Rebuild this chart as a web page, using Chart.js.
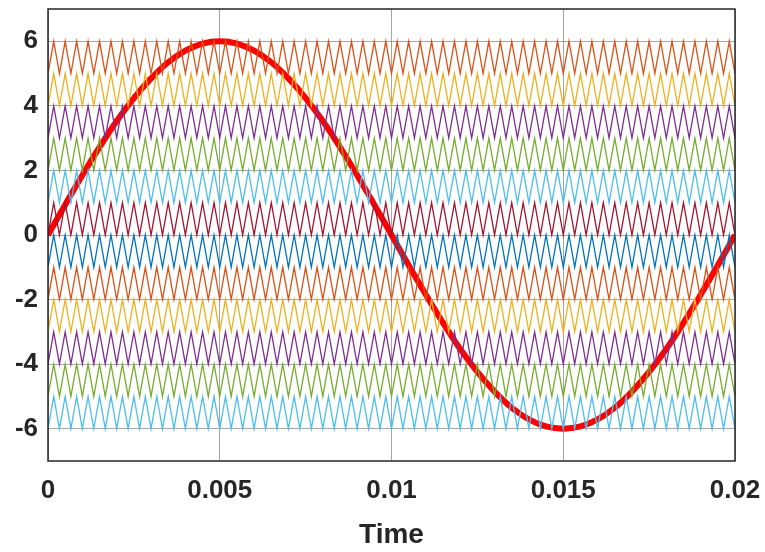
<!DOCTYPE html>
<html>
<head>
<meta charset="utf-8">
<script src="https://cdn.jsdelivr.net/npm/chart.js@4/dist/chart.umd.min.js"></script>
<style>
  html, body { margin: 0; padding: 0; background: #fff; }
  #wrap { width: 765px; height: 552px; }
</style>
</head>
<body>
<div id="wrap"><canvas id="pwm" width="765" height="552"></canvas></div>
<script>
// reference sine, 50 Hz, amplitude 6, read every 0.0005 s
var refTimes = [0, 0.0005, 0.001, 0.0015, 0.002, 0.0025, 0.003, 0.0035, 0.004, 0.0045,
  0.005, 0.0055, 0.006, 0.0065, 0.007, 0.0075, 0.008, 0.0085, 0.009, 0.0095,
  0.01, 0.0105, 0.011, 0.0115, 0.012, 0.0125, 0.013, 0.0135, 0.014, 0.0145,
  0.015, 0.0155, 0.016, 0.0165, 0.017, 0.0175, 0.018, 0.0185, 0.019, 0.0195, 0.02];
var refValues = [0, 0.94, 1.85, 2.72, 3.53, 4.24, 4.85, 5.35, 5.71, 5.93,
  6, 5.93, 5.71, 5.35, 4.85, 4.24, 3.53, 2.72, 1.85, 0.94,
  0, -0.94, -1.85, -2.72, -3.53, -4.24, -4.85, -5.35, -5.71, -5.93,
  -6, -5.93, -5.71, -5.35, -4.85, -4.24, -3.53, -2.72, -1.85, -0.94, 0];

// level-shifted triangular carriers, one per unit band, 60 cycles over 0.02 s
var carrierBottoms = [5, 4, 3, 2, 1, 0, -1, -2, -3, -4, -5, -6];
var carrierColors = ['#D95319', '#EDB120', '#7E2F8E', '#77AC30', '#4DBEEE', '#A2142F',
  '#0072BD', '#D95319', '#EDB120', '#7E2F8E', '#77AC30', '#4DBEEE'];
var carrierCycles = 60;
var timeEnd = 0.02;

var xTicks = [0, 0.005, 0.01, 0.015, 0.02];
var xTickLabels = ['0', '0.005', '0.01', '0.015', '0.02'];
var yTicks = [-6, -4, -2, 0, 2, 4, 6];
var yTickLabels = ['-6', '-4', '-2', '0', '2', '4', '6'];

var datasets = [];
carrierBottoms.forEach(function(b, i) {
  var pts = [];
  // triangle vertices: trough at t=0, peak every half cycle
  for (var k = 0; k <= carrierCycles * 2; k++) {
    pts.push({x: k * timeEnd / (carrierCycles * 2), y: b + (k % 2)});
  }
  datasets.push({
    data: pts,
    borderColor: carrierColors[i],
    borderWidth: 1.3,
    pointRadius: 0,
    tension: 0
  });
});
datasets.push({
  data: refTimes.map(function(t, i) { return {x: t, y: refValues[i]}; }),
  borderColor: '#FF0000',
  borderWidth: 6,
  pointRadius: 0,
  tension: 0.3
});

var boxPlugin = {
  id: 'box',
  afterDatasetsDraw: function(chart) {
    var a = chart.chartArea, ctx = chart.ctx;
    ctx.save();
    ctx.strokeStyle = '#262626';
    ctx.lineWidth = 1.5;
    ctx.strokeRect(a.left, a.top, a.right - a.left, a.bottom - a.top);
    ctx.restore();
  }
};

var tickFont = {family: "'Liberation Sans', Arial, sans-serif", size: 26, weight: 'bold'};

new Chart('pwm', {
  type: 'line',
  data: {datasets: datasets},
  plugins: [boxPlugin],
  options: {
    responsive: false,
    animation: false,
    events: [],
    layout: {padding: {top: 9, right: 30, left: 0, bottom: 0}},
    plugins: {legend: {display: false}, tooltip: {enabled: false}},
    scales: {
      x: {
        type: 'linear',
        min: 0,
        max: 0.02,
        afterBuildTicks: function(s) { s.ticks = xTicks.map(function(v) { return {value: v}; }); },
        afterFit: function(s) { s.height = 91; s.paddingLeft = 0; s.paddingRight = 0; },
        ticks: {
          color: '#262626',
          font: tickFont,
          padding: 14,
          maxRotation: 0,
          callback: function(v) { return xTickLabels[xTicks.indexOf(v)]; }
        },
        grid: {color: 'rgba(0,0,0,0.35)', lineWidth: 1, drawTicks: false},
        border: {display: false},
        title: {
          display: true,
          text: 'Time',
          color: '#262626',
          font: {family: tickFont.family, size: 28, weight: 'bold'},
          padding: {top: 2, bottom: 0}
        }
      },
      y: {
        type: 'linear',
        min: -7,
        max: 7,
        afterBuildTicks: function(s) { s.ticks = yTicks.map(function(v) { return {value: v}; }); },
        afterFit: function(s) { s.width = 48; s.paddingTop = 0; s.paddingBottom = 0; },
        ticks: {
          color: '#262626',
          font: tickFont,
          padding: 10,
          callback: function(v) { return yTickLabels[yTicks.indexOf(v)]; }
        },
        grid: {color: 'rgba(0,0,0,0.35)', lineWidth: 1, drawTicks: false},
        border: {display: false}
      }
    }
  }
});
</script>
</body>
</html>
